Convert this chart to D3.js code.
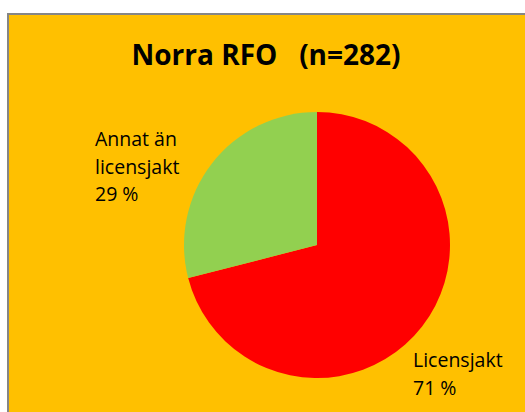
<!DOCTYPE html>
<html>
<head>
<meta charset="utf-8">
<script src="https://cdn.jsdelivr.net/npm/d3@7"></script>
<style>
  body { margin: 0; background: #fff; }
  text { font-family: "Open Sans", "Liberation Sans", sans-serif; fill: #000; }
</style>
</head>
<body>
<div id="chart"></div>
<script>
// Data
var categories = ["Licensjakt", "Annat än licensjakt"];
var values = [71, 29];
var colors = ["#FF0000", "#92D050"];
var title = "Norra RFO   (n=282)";

var width = 525, height = 412;

var svg = d3.select("#chart")
    .append("svg")
    .attr("width", width)
    .attr("height", height);

// Chart area background with grey border
svg.append("rect")
    .attr("x", 8)
    .attr("y", 14)
    .attr("width", width)
    .attr("height", height)
    .attr("fill", "#FFC000")
    .attr("stroke", "#868686")
    .attr("stroke-width", 2);

// Title
svg.append("text")
    .attr("x", 266)
    .attr("y", 65)
    .attr("text-anchor", "middle")
    .attr("font-size", 28)
    .attr("font-weight", "bold")
    .attr("xml:space", "preserve")
    .style("white-space", "pre")
    .text(title);

// Pie
var cx = 317, cy = 245, r = 133;
var pie = d3.pie().sort(null).value(function (d) { return d; });
var arc = d3.arc().innerRadius(0).outerRadius(r);

var g = svg.append("g")
    .attr("transform", "translate(" + cx + "," + cy + ")");

g.selectAll("path")
    .data(pie(values))
    .enter()
    .append("path")
    .attr("d", arc)
    .attr("fill", function (d, i) { return colors[i]; });

// Labels
var labels = [
    { lines: [categories[0], values[0] + " %"], x: 413, y: 367 },
    { lines: ["Annat än", "licensjakt", values[1] + " %"], x: 95, y: 146 }
];

labels.forEach(function (l) {
    var t = svg.append("text")
        .attr("x", l.x)
        .attr("y", l.y)
        .attr("font-size", 19.5);
    l.lines.forEach(function (s, i) {
        t.append("tspan")
            .attr("x", l.x)
            .attr("dy", i === 0 ? 0 : 27.5)
            .text(s);
    });
});
</script>
</body>
</html>
